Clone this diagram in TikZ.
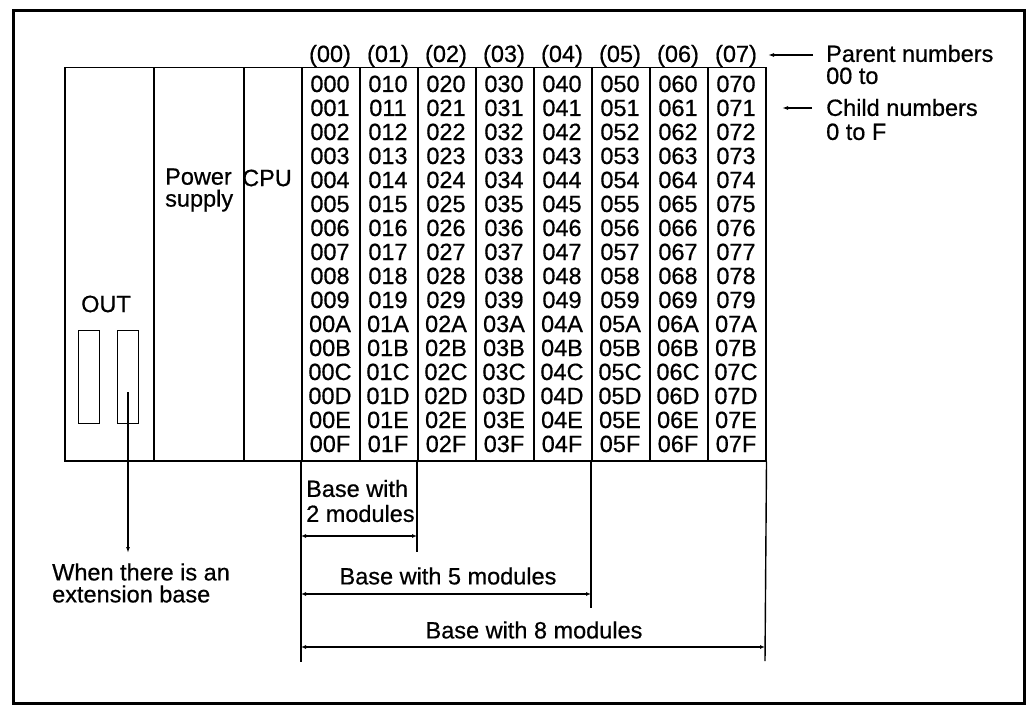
\documentclass[tikz,border=0pt]{standalone}
\usepackage{fontspec}
\setmainfont{Liberation Sans}[FakeBold=0.6]
\usetikzlibrary{arrows.meta}
\begin{document}
\begin{tikzpicture}[x=1pt,y=-1pt,
  lbl/.style={inner sep=0pt, font=\fontsize{23.5}{22}\selectfont},
  cell/.style={lbl, anchor=base},
  modbox/.style={draw, line width=1.5pt, inner sep=0pt, anchor=north west, minimum height=393pt},
  plug/.style={draw, line width=1.3pt, inner sep=0pt, anchor=north west, minimum width=21pt, minimum height=93pt},
  ext/.style={line width=1.4pt},
  dimarrow/.style={line width=1.2pt, {Latex[length=5pt,width=4pt]}-{Latex[length=5pt,width=4pt]}},
  ptr/.style={line width=1.2pt, -{Latex[length=6pt,width=4pt]}},
]
\useasboundingbox (0,0) rectangle (1030,706);
\draw[line width=3pt] (13,10.5) rectangle (1024,703.5);

% rack modules
\node[modbox, minimum width=89pt] (outmod) at (64,67) {};
\node[modbox, minimum width=90pt] (psmod) at (153,67) {};
\node[modbox, minimum width=58pt] (cpumod) at (243,67) {};
\foreach \k in {0,...,7}{
  \node[modbox, minimum width=58pt] (s\k) at (301+58*\k,67) {};
  \node[cell] (h\k) at (330+58*\k,62) {(0\k)};
  \foreach \r [count=\i from 0] in {0,1,2,3,4,5,6,7,8,9,A,B,C,D,E,F}{
    \node[cell] (c\k\r) at (330+58*\k,92+24*\i) {0\k\r};
  }
}

% texts in modules
\node[lbl, align=left, anchor=west] (ps) at (165,190) {Power\\supply};
\node[lbl] (cpu) at (267,178) {CPU};
\node[lbl] (out) at (106,304) {OUT};
\node[plug] (plugA) at (78,330) {};
\node[plug] (plugB) at (117,330) {};

% extension base pointer
\node[lbl, align=left, anchor=west] (extlbl) at (52,583) {When there is an\\extension base};
\coordinate (plugdot) at (128,392);
\coordinate (plugend) at (128,553);
\draw[ptr] (plugdot) -- (plugend);

% right labels
\node[lbl, align=left, anchor=west] (pn) at (826,64.5) {Parent numbers\\00 to};
\node[lbl, align=left, anchor=west] (cn) at (826,119.5) {Child numbers\\[2pt]0 to F};
\coordinate (pnA) at (813,55);
\coordinate (pnB) at (768,55);
\draw[ptr] (pnA) -- (pnB);
\coordinate (cnA) at (812,108);
\coordinate (cnB) at (782,108);
\draw[ptr] (cnA) -- (cnB);

% extension lines below the base
\coordinate (e0) at (301,662);
\coordinate (e2) at (417,552);
\coordinate (e5) at (591,608);
\coordinate (e8) at (765,661);
\draw[ext] (s0.south west) -- (e0);
\draw[ext] (s2.south west) -- (e2);
\draw[ext] (s5.south west) -- (e5);
\draw[ext] (s7.south east) -- (e8);

% dimension arrows
\coordinate (d2a) at (301,536);
\coordinate (d2b) at (417,536);
\coordinate (d5a) at (301,594);
\coordinate (d5b) at (591,594);
\coordinate (d8a) at (301,647);
\coordinate (d8b) at (765,647);
\draw[dimarrow] (d2a) -- (d2b);
\draw[dimarrow] (d5a) -- (d5b);
\draw[dimarrow] (d8a) -- (d8b);

\node[lbl, align=left, anchor=west] (b2) at (306,501) {Base with\\[3pt]2 modules};
\node[lbl] (b5) at (448,576) {Base with 5 modules};
\node[lbl] (b8) at (534,630) {Base with 8 modules};
\end{tikzpicture}
\end{document}
